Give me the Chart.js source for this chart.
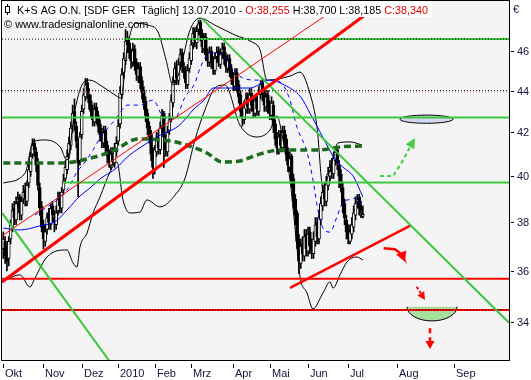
<!DOCTYPE html>
<html>
<head>
<meta charset="utf-8">
<script src="https://cdn.jsdelivr.net/npm/chart.js@4.4.1/dist/chart.umd.min.js"></script>
<style>
  html, body { margin: 0; padding: 0; background: #fff; }
  canvas { display: block; }
</style>
</head>
<body>
<canvas id="chart" width="531" height="380"></canvas>
<script>
// K+S AG O.N., daily bars from 1 Oct 2009 to 13 Jul 2010
// x = trading day since 1 Oct 2009 (after the last bar the axis runs on calendar days)
const opens = [36.9,37.2,36.8,36.5,37.3,37.8,38.6,38.1,38.9,39.1,
  38.3,39.0,39.4,38.9,39.7,40.2,41.0,41.5,41.1,40.6,
  39.5,38.7,37.9,37.2,37.7,38.3,37.9,38.7,38.2,37.9,
  38.5,39.1,38.6,39.4,39.9,40.3,41.0,41.4,42.3,43.0,
  42.3,41.5,40.7,41.9,43.1,43.7,44.4,43.8,43.5,43.1,
  42.5,43.2,42.8,42.4,42.0,41.5,42.1,41.4,41.0,40.5,
  41.1,40.6,41.1,41.6,42.4,43.8,44.9,45.5,46.6,46.4,
  45.8,45.4,46.1,45.4,44.7,45.2,44.5,44.0,43.5,42.9,
  42.3,41.9,41.1,40.3,41.1,41.8,41.2,42.3,42.9,41.7,
  41.1,42.1,42.7,43.4,44.5,45.2,44.5,45.4,45.9,45.1,
  45.0,44.3,45.1,45.5,46.4,47.0,46.4,47.1,47.5,46.9,
  46.1,46.7,45.9,45.4,46.0,45.5,45.0,45.7,46.0,45.3,
  45.9,46.2,45.7,45.1,45.6,45.1,44.7,44.2,44.9,44.3,
  43.8,43.1,42.6,43.1,43.7,43.1,43.9,43.4,42.9,43.6,
  43.0,43.8,44.4,43.9,43.2,43.8,43.3,42.8,43.3,42.4,
  41.8,41.2,41.9,41.3,42.1,41.7,41.1,40.4,40.9,39.9,
  39.0,38.4,37.3,36.3,37.1,36.6,37.5,36.8,37.6,37.1,
  36.7,37.2,38.0,37.3,38.1,38.7,39.4,38.9,39.6,40.0,
  40.5,40.1,40.7,41.2,40.5,40.1,39.5,38.8,38.1,37.7,
  37.2,37.5,37.8,38.3,38.9,39.1,38.7,38.255];
const highs = [37.6,37.4,37.0,37.4,38.1,38.8,38.9,39.1,39.3,39.2,
  39.1,39.6,39.7,39.8,40.6,41.1,41.7,41.7,41.3,40.8,
  39.7,38.9,38.1,37.9,38.4,38.6,38.8,38.9,38.5,38.7,
  39.3,39.3,39.5,40.1,40.7,41.2,41.8,42.5,43.3,43.6,
  42.5,41.7,42.0,43.3,44.1,44.6,44.6,44.1,43.8,43.3,
  43.4,43.4,43.0,42.6,42.2,42.3,42.3,41.6,41.2,41.3,
  41.3,41.5,41.8,42.6,44.2,45.1,45.9,47.1,47.0,46.7,
  46.1,46.4,46.3,45.6,45.4,45.4,44.7,44.2,43.7,43.1,
  42.5,42.1,41.3,41.4,42.0,42.1,42.5,43.1,43.0,41.9,
  42.3,42.9,43.8,44.7,45.4,45.5,45.6,46.1,46.1,45.4,
  45.2,45.3,45.9,46.6,47.2,47.2,47.3,47.6,47.6,47.1,
  46.9,46.9,46.1,46.2,46.2,45.7,45.9,46.2,46.2,46.1,
  46.4,46.4,45.9,45.8,45.8,45.3,44.9,45.1,45.1,44.5,
  44.0,43.3,43.5,43.9,43.9,44.1,44.1,43.6,43.8,43.8,
  44.2,44.5,44.6,44.1,44.0,44.0,43.5,43.7,43.5,42.6,
  42.0,42.1,42.1,42.3,42.3,41.9,41.3,41.1,41.0,40.1,
  39.2,38.5,37.5,37.3,37.4,37.7,37.7,37.8,37.8,37.3,
  37.6,38.2,38.2,38.5,39.1,39.6,39.7,40.0,40.4,40.7,
  40.8,41.1,41.3,41.3,40.7,40.3,39.7,39.0,38.3,37.9,
  37.9,38.2,38.7,39.1,39.2,39.2,38.9,38.7];
const lows = [36.5,36.3,36.0,36.2,37.1,37.6,37.9,37.9,38.6,38.1,
  38.1,38.8,38.7,38.7,39.5,40.0,40.8,40.9,40.2,39.4,
  38.3,37.6,36.9,37.0,37.5,37.7,37.7,38.0,37.6,37.7,
  38.3,38.4,38.4,39.2,39.7,40.1,40.8,41.2,42.0,42.1,
  41.3,39.1,40.5,41.7,42.9,43.5,43.6,43.1,42.7,42.3,
  42.3,42.4,42.0,41.6,41.3,41.3,41.0,40.6,40.4,40.3,
  40.5,40.4,40.9,41.4,42.2,43.6,44.6,45.3,45.9,45.6,
  45.1,45.2,45.0,44.5,44.4,44.1,43.6,43.1,42.5,41.9,
  41.5,40.7,39.9,40.1,40.9,41.0,41.0,42.0,40.4,40.9,
  40.9,41.9,42.5,43.2,44.3,44.3,44.3,45.1,44.9,44.6,
  44.1,44.1,44.9,45.3,46.1,46.2,46.1,46.8,46.5,45.9,
  45.9,45.5,45.2,45.2,45.1,44.8,44.8,45.4,45.2,45.1,
  45.6,45.3,44.9,44.9,44.7,44.3,44.0,44.0,43.9,43.4,
  42.7,42.3,42.4,42.9,42.9,42.9,43.0,42.7,42.7,42.8,
  42.8,43.6,43.5,43.0,43.0,42.9,42.6,42.6,42.0,41.4,
  41.0,41.0,41.1,41.1,41.3,40.7,40.2,40.2,39.5,38.6,
  37.9,36.9,35.9,36.1,36.4,36.4,36.6,36.6,36.7,36.5,
  36.5,37.0,37.1,37.1,37.9,38.5,38.7,38.7,39.4,39.8,
  39.9,39.9,40.5,40.3,39.5,39.3,38.4,37.9,37.3,37.1,
  37.1,37.3,37.6,38.1,38.6,38.3,38.2,38.185];
const closes = [37.3,36.6,36.4,37.2,37.9,38.5,38.2,38.8,39.0,38.4,
  38.9,39.3,39.0,39.6,40.3,40.9,41.4,41.2,40.5,39.6,
  38.6,37.8,37.3,37.6,38.2,38.0,38.6,38.3,38.0,38.4,
  39.0,38.7,39.3,39.8,40.4,40.9,41.5,42.2,42.9,42.4,
  41.6,40.6,41.8,43.0,43.8,44.3,43.9,43.4,43.0,42.6,
  43.1,42.7,42.3,41.9,41.6,42.0,41.3,40.9,40.6,41.0,
  40.7,41.2,41.5,42.3,43.9,44.8,45.6,46.5,46.3,45.9,
  45.5,46.0,45.3,44.8,45.1,44.4,43.9,43.4,42.8,42.2,
  41.8,41.0,40.4,41.2,41.7,41.3,42.2,42.8,41.8,41.2,
  42.0,42.6,43.5,44.4,45.1,44.6,45.3,45.8,45.2,44.9,
  44.4,45.0,45.6,46.3,46.9,46.5,47.0,47.4,46.8,46.2,
  46.6,45.8,45.5,45.9,45.4,45.1,45.6,45.9,45.4,45.8,
  46.1,45.6,45.2,45.5,45.0,44.6,44.3,44.8,44.2,43.7,
  43.0,42.7,43.2,43.6,43.2,43.8,43.3,43.0,43.5,43.1,
  43.9,44.3,43.8,43.3,43.7,43.2,42.9,43.4,42.3,41.7,
  41.3,41.8,41.4,42.0,41.6,41.0,40.5,40.8,39.8,38.9,
  38.3,37.2,36.4,37.0,36.7,37.4,36.9,37.5,37.0,36.8,
  37.3,37.9,37.4,38.2,38.8,39.3,39.0,39.7,40.1,40.4,
  40.2,40.8,41.1,40.6,40.0,39.6,38.7,38.2,37.6,37.3,
  37.6,37.9,38.4,38.8,39.0,38.6,38.5,38.34];

// axes
const monthIdx = [0, 22, 43, 63, 83, 103, 126, 146, 167, 189, 216, 247];
const monthLabels = ['Okt', 'Nov', 'Dez', '2010', 'Feb', 'Mrz', 'Apr', 'Mai', 'Jun', 'Jul', 'Aug', 'Sep'];
const priceTicks = [34, 36, 38, 40, 42, 44, 46];
const xMin = -0.7, xMax = 277.1;
const yMin = 32.6, yMax = 48.62;

// indicators, [bar, price]
const bandUpper = [[0,39.7],[12,40.15],[16.3,41.56],[22.8,41.65],[31.1,41.33],[34.9,40.73],[39.3,43.07],
  [43.1,44.28],[47.5,44.52],[53,44.28],[61.2,43.79],[64.5,43.64],[67.8,46.04],[72.2,47.43],[79.3,47.33],
  [84.8,46.97],[89.2,45.53],[93,44.28],[96.8,45.02],[102.3,47.07],[107.8,47.7],[116,47.33],[127,46.81],
  [136.3,46.45],[140.7,46.04],[144.5,44.52],[157.1,44.72],[162.6,44.92],[168.1,43.84],[171.9,42.25],
  [175.2,39.48],[179,40.28],[183.4,41.51],[190,41.56],[196.5,41.42]];
const bandLower = [[0,35.6],[9.2,35.84],[14.6,35.36],[17.4,35.72],[23.9,36.56],[34.9,36.85],[38.2,36.32],
  [40.4,36.16],[42,36.97],[45.9,37.55],[49.2,38.4],[53,39.09],[58.5,40.19],[62.3,40.64],[65.6,38.96],
  [69.4,38.4],[74.9,38.44],[78.7,38.96],[85.9,38.66],[94.1,39.17],[99.6,39.92],[105,41.65],[110.5,43.07],
  [116,44.13],[121.5,44.28],[129.7,42.34],[139,41.79],[146.1,42.11],[149.9,42.78],[153.3,41.65],
  [157.1,39.83],[160.9,36.97],[162.6,35.76],[166.4,35.13],[169.7,34.51],[175.2,35.13],[179,35.56],
  [180.7,35.32],[184.5,35.84],[188.3,36.36],[193.8,36.56],[197.1,36.44]];
const avgSolid = [[0,37.76],[9,37.68],[20,37.85],[29,38.06],[35,38.53],[42,39.13],[47.5,39.48],[53,39.88],
  [62,40.37],[68,40.87],[75,41.3],[86,41.88],[96,42.3],[105,43.16],[110,43.54],[115,44.13],[135,44.13],
  [146,44.52],[154,44.28],[163,43.69],[168,42.92],[175,41.79],[181,40.87],[186,40.42],[192,39.97],[197,39.09]];
const avgDashed = [[17.4,38.31],[34.9,39.39],[40.4,40.19],[44.8,40.64],[49.2,41.19],[53,41.74],[61.2,42.59],
  [68.3,43.3],[74.9,43.3],[82,43.54],[88.6,42.64],[94.1,42.68],[99.6,43.69],[105,44.37],[107.8,45.12],
  [113.3,45.88],[120.4,45.78],[124.2,45.27],[131.3,44.62],[139,44.52],[147.8,44.52],[153.3,44.28],
  [157.1,43.54],[160.9,42.25],[166.4,41.1],[169.7,39.83],[172.4,38.53],[175.2,37.76],[179,37.59],
  [182.8,38.23],[186.1,38.87],[188.8,38.96],[194.3,39.04],[196.5,38.66]];
const avgLong = [[0,40.59],[31.1,40.59],[50.2,40.87],[61.2,41.19],[73.8,41.7],[87,41.65],[96.8,41.51],
  [103.4,41.33],[111.6,41.05],[119.8,40.64],[129.7,40.69],[139,40.96],[151.6,41.19],[173.5,41.19],
  [184.5,41.33],[196.5,41.37]];

// drawn levels and trend lines
const greenLevels = [[66.2, 46.6], [-0.7, 42.71], [32.7, 39.72]];   // [from bar, price]
const redLevels = [35.69, 34.47];
const dottedLevels = [46.6, 44.0, 34.47];
const pinkLevel = 43.93;
const redTrendThick = [[-0.7, 35.56], [208.6, 48.62]];
const redTrendThin = [[-0.7, 37.43], [188.3, 48.62]];
const redTrendLow = [[157.1, 35.33], [222.8, 37.85]];
const greenTrendOld = [[-0.7, 38.4], [63.9, 32.04]];
const greenTrendDown = [[108.7, 47.69], [277.1, 33.98]];

// drawings on the right
const targetEllipse = [217.4, 246.4, 42.43, 42.82];
const targetBowl = [221.2, 248.6, 34.05, 34.59];
const greenArrow = [[206.4,40.01],[213.5,40.01],[215.7,40.28],[218.5,40.64],[221.2,41.05],[222.8,41.33],[225.6,41.74]];
const redArrow = [[208.4,36.92],[214.6,36.88],[217.4,36.72],[219.0,36.57],[220.1,36.37]];
const redArrowShort = [[226.5,35.37],[231.1,34.85]];
const redArrowDown = [[233.8,33.77],[233.8,33.0]];

const GREEN = '#3cc83c';
const RED = '#ff0000';

function pts(list) {
  return list.map(p => ({ x: p[0], y: p[1] }));
}

function lineSet(list, color, width, dash, order, smooth) {
  return {
    type: 'line',
    data: pts(list),
    borderColor: color,
    borderWidth: width,
    borderDash: dash || [],
    pointRadius: 0,
    fill: false,
    tension: 0,
    cubicInterpolationMode: smooth ? 'monotone' : 'default',
    order: order
  };
}

const datasets = [];

datasets.push({
  type: 'bar',
  data: highs.map((h, i) => ({ x: i, y: [lows[i], h] })),
  backgroundColor: '#000',
  barThickness: 1,
  grouped: false,
  order: 30
});
datasets.push({
  type: 'bar',
  data: closes.map((c, i) => ({ x: i, y: [Math.min(opens[i], c), Math.max(opens[i], c)] })),
  backgroundColor: closes.map((c, i) => c >= opens[i] ? '#ffffff' : '#000000'),
  borderColor: '#000',
  borderWidth: 1,
  borderSkipped: false,
  barThickness: 3,
  grouped: false,
  order: 29
});

datasets.push(lineSet(bandUpper, '#000', 1, null, 20, true));
datasets.push(lineSet(bandLower, '#000', 1, null, 20, true));
datasets.push(lineSet(avgSolid, '#0000ff', 1, null, 19, true));
datasets.push(lineSet(avgDashed, '#0000ff', 1, [4, 4], 19, true));
datasets.push(lineSet(avgLong, '#1d6b1d', 3.5, [7, 4], 18, true));

greenLevels.forEach(g => datasets.push(lineSet([[g[0], g[1]], [xMax, g[1]]], GREEN, 2, null, 10)));
redLevels.forEach(v => datasets.push(lineSet([[xMin, v], [xMax, v]], RED, 2, null, 10)));
datasets.push(lineSet([[xMin, pinkLevel], [xMax, pinkLevel]], '#e8a0a0', 1, [1, 2], 9));
dottedLevels.forEach(v => datasets.push(lineSet([[xMin, v], [xMax, v]], '#000', 1, [1, 2], 8)));

datasets.push(lineSet(greenTrendOld, GREEN, 2, null, 7));
datasets.push(lineSet(greenTrendDown, GREEN, 2, null, 7));
datasets.push(lineSet(redTrendThin, RED, 1, null, 6));
datasets.push(lineSet(redTrendThick, RED, 3, null, 6));
datasets.push(lineSet(redTrendLow, RED, 2.5, null, 6));

function drawArrow(ctx, sx, sy, list, color, width, dash, headLen, headHalf) {
  const p = list.map(q => [sx.getPixelForValue(q[0]), sy.getPixelForValue(q[1])]);
  const tip = p[p.length - 1];
  const prev = p[p.length - 2];
  let dx = tip[0] - prev[0], dy = tip[1] - prev[1];
  const len = Math.hypot(dx, dy) || 1;
  dx /= len; dy /= len;
  const base = [tip[0] - dx * headLen, tip[1] - dy * headLen];
  ctx.save();
  ctx.strokeStyle = color;
  ctx.fillStyle = color;
  ctx.lineWidth = width;
  ctx.setLineDash(dash);
  ctx.beginPath();
  ctx.moveTo(p[0][0], p[0][1]);
  for (let i = 1; i < p.length - 1; i++) ctx.lineTo(p[i][0], p[i][1]);
  ctx.lineTo(base[0], base[1]);
  ctx.stroke();
  ctx.setLineDash([]);
  ctx.beginPath();
  ctx.moveTo(tip[0], tip[1]);
  ctx.lineTo(base[0] - dy * headHalf, base[1] + dx * headHalf);
  ctx.lineTo(base[0] + dy * headHalf, base[1] - dx * headHalf);
  ctx.closePath();
  ctx.fill();
  ctx.restore();
}

const decor = {
  id: 'decor',
  beforeDraw(chart) {
    const { ctx, chartArea: a } = chart;
    ctx.save();
    ctx.fillStyle = '#ffffff';
    ctx.fillRect(0, 0, chart.width, chart.height);
    ctx.fillStyle = '#f4f4f4';
    ctx.fillRect(a.left, a.top, a.right - a.left, a.bottom - a.top);
    ctx.restore();
  },
  beforeDatasetsDraw(chart) {
    const { ctx, scales: { x: sx, y: sy } } = chart;
    ctx.save();
    // target ellipse
    let l = sx.getPixelForValue(targetEllipse[0]), r = sx.getPixelForValue(targetEllipse[1]);
    let b = sy.getPixelForValue(targetEllipse[2]), t = sy.getPixelForValue(targetEllipse[3]);
    ctx.beginPath();
    ctx.ellipse((l + r) / 2, (t + b) / 2, (r - l) / 2, (b - t) / 2, 0, 0, Math.PI * 2);
    ctx.fillStyle = '#d3d8ee';
    ctx.fill();
    ctx.lineWidth = 1;
    ctx.strokeStyle = '#000';
    ctx.stroke();
    // bowl below the low
    l = sx.getPixelForValue(targetBowl[0]); r = sx.getPixelForValue(targetBowl[1]);
    b = sy.getPixelForValue(targetBowl[2]); t = sy.getPixelForValue(targetBowl[3]);
    ctx.beginPath();
    ctx.ellipse((l + r) / 2, t, (r - l) / 2, b - t, 0, 0, Math.PI);
    ctx.closePath();
    ctx.fillStyle = '#a8dfa0';
    ctx.fill();
    ctx.beginPath();
    ctx.ellipse((l + r) / 2, t, (r - l) / 2, b - t, 0, 0, Math.PI);
    ctx.stroke();
    ctx.restore();
  },
  afterDatasetsDraw(chart) {
    const { ctx, scales: { x: sx, y: sy } } = chart;
    drawArrow(ctx, sx, sy, greenArrow, '#44cc44', 2, [4, 3], 10, 5);
    drawArrow(ctx, sx, sy, redArrow, RED, 2.5, [], 10, 5.5);
    drawArrow(ctx, sx, sy, redArrowShort, RED, 2, [3, 2], 8, 4);
    drawArrow(ctx, sx, sy, redArrowDown, RED, 2.5, [5, 4], 8, 4.5);
  },
  afterDraw(chart) {
    const { ctx, chartArea: a, scales: { x: sx, y: sy } } = chart;
    ctx.save();
    // header
    ctx.fillStyle = '#ffffff';
    ctx.fillRect(a.left, a.top, 430, 16);
    const parts = [['K+S AG O.N. [SDF GER  T\u00e4glich] 13.07.2010 - ', '#000'], ['O:38,255', '#e00000'],
      [' H:38,700 L:38,185 ', '#000'], ['C:38,340', '#e00000']];
    ctx.font = '11px "Liberation Sans"';
    ctx.textBaseline = 'alphabetic';
    ctx.textAlign = 'left';
    const total = parts.reduce((w, p) => w + ctx.measureText(p[0]).width, 0);
    ctx.save();
    ctx.translate(17, 14);
    ctx.scale(411 / total, 1);
    let x = 0;
    parts.forEach(p => { ctx.fillStyle = p[1]; ctx.fillText(p[0], x, 0); x += ctx.measureText(p[0]).width; });
    ctx.restore();
    ctx.fillStyle = '#000';
    ctx.fillText('\u00a9 www.tradesignalonline.com', 4, 28);
    // candle icon
    ctx.strokeStyle = '#000';
    ctx.lineWidth = 1;
    ctx.strokeRect(5.5, 6.5, 4, 6);
    ctx.beginPath();
    ctx.moveTo(7.5, 4); ctx.lineTo(7.5, 6.5);
    ctx.moveTo(7.5, 12.5); ctx.lineTo(7.5, 15);
    ctx.stroke();
    // frame
    ctx.strokeRect(a.left - 0.5, a.top - 0.5, a.right - a.left + 1, a.bottom - a.top + 1);
    // price axis
    ctx.fillStyle = '#14143c';
    ctx.textBaseline = 'middle';
    priceTicks.forEach(v => {
      const y = Math.round(sy.getPixelForValue(v)) + 0.5;
      ctx.beginPath();
      ctx.moveTo(a.right + 2, y); ctx.lineTo(a.right + 5, y);
      ctx.stroke();
      ctx.fillText(String(v), a.right + 8, y);
    });
    ctx.textBaseline = 'alphabetic';
    ctx.fillText('\u20ac', a.right + 4, 13);
    // time axis
    monthIdx.forEach((v, i) => {
      const px = Math.round(sx.getPixelForValue(v)) + 0.5;
      ctx.beginPath();
      ctx.moveTo(px, a.bottom + 4); ctx.lineTo(px, a.bottom + 8);
      ctx.stroke();
      ctx.fillText(monthLabels[i], px + 1.5, a.bottom + 17);
    });
    ctx.restore();
  }
};

new Chart(document.getElementById('chart'), {
  type: 'bar',
  data: { datasets: datasets },
  options: {
    responsive: false,
    animation: false,
    devicePixelRatio: 1,
    events: [],
    layout: { padding: { left: 2, top: 1, right: 22, bottom: 20 } },
    plugins: { legend: { display: false }, tooltip: { enabled: false } },
    scales: {
      x: { type: 'linear', display: false, min: xMin, max: xMax, offset: false, bounds: 'data' },
      y: { type: 'logarithmic', display: false, min: yMin, max: yMax, bounds: 'data' }
    }
  },
  plugins: [decor]
});
</script>
</body>
</html>
